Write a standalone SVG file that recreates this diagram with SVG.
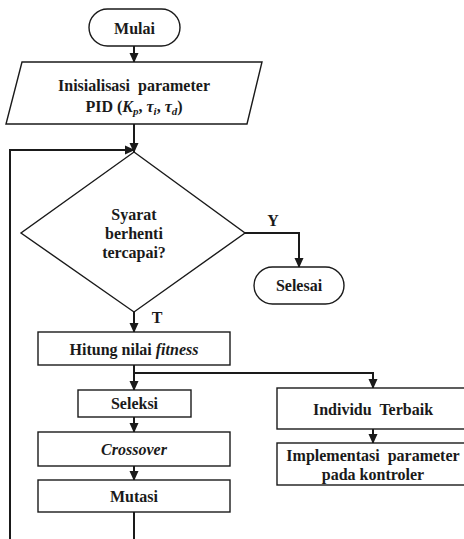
<svg xmlns="http://www.w3.org/2000/svg" width="464" height="539" viewBox="0 0 464 539">
<defs>
<marker id="ah" markerWidth="10" markerHeight="10" refX="9" refY="5" orient="auto" markerUnits="userSpaceOnUse">
<path d="M0,0.5 L10,5 L0,9.5 Z" fill="#1a1a1a"/>
</marker>
<style>
.s{fill:#fff;stroke:#1a1a1a;stroke-width:1.4}
.c{fill:none;stroke:#1a1a1a;stroke-width:2}
text{font-family:"Liberation Serif","Times New Roman",serif;font-weight:bold;font-size:16px;fill:#1a1a1a;text-anchor:middle}
.i{font-style:italic}
</style>
</defs>
<rect width="464" height="539" fill="#fff"/>
<g id="connectors">
<path class="c" d="M134,46 V62" marker-end="url(#ah)"/>
<path class="c" d="M134,124 V152" marker-end="url(#ah)"/>
<path class="c" d="M10,539 V150 H134" marker-end="url(#ah)"/>
<path class="c" d="M245,233 H299 V267" marker-end="url(#ah)"/>
<path class="c" d="M134,312 V332" marker-end="url(#ah)"/>
<path class="c" d="M134,365 V390" marker-end="url(#ah)"/>
<path class="c" d="M134,373 H373 V388" marker-end="url(#ah)"/>
<path class="c" d="M134,417 V432" marker-end="url(#ah)"/>
<path class="c" d="M134,466 V480" marker-end="url(#ah)"/>
<path class="c" d="M373,429 V443" marker-end="url(#ah)"/>
<path class="c" d="M134,512 V539"/>
<text x="273" y="226">Y</text>
<text x="157" y="323">T</text>
</g>
<g id="mulai">
<rect class="s" x="89" y="9" width="91" height="37" rx="18.5"/>
<text x="134.5" y="34">Mulai</text>
</g>
<g id="inisialisasi">
<path class="s" d="M22,62 H262 L247,124 H6 Z"/>
<text x="134" y="91" xml:space="preserve">Inisialisasi  parameter</text>
<text x="134" y="112">PID (<tspan class="i">K</tspan><tspan class="i" font-size="11" dy="3">p</tspan><tspan dy="-3">, </tspan><tspan class="i">τ</tspan><tspan class="i" font-size="11" dy="3">i</tspan><tspan dy="-3">, </tspan><tspan class="i">τ</tspan><tspan class="i" font-size="11" dy="3">d</tspan><tspan dy="-3">)</tspan></text>
</g>
<g id="syarat">
<path class="s" d="M134,152 L245,233 L134,312 L21,233 Z"/>
<text x="134" y="220">Syarat</text>
<text x="134" y="239">berhenti</text>
<text x="134" y="258">tercapai?</text>
</g>
<g id="selesai">
<rect class="s" x="254" y="267" width="90" height="37" rx="18.5"/>
<text x="299" y="291">Selesai</text>
</g>
<g id="hitung">
<rect class="s" x="38" y="332" width="192" height="33"/>
<text x="134" y="355">Hitung nilai <tspan class="i">fitness</tspan></text>
</g>
<g id="seleksi">
<rect class="s" x="78" y="390" width="113" height="27"/>
<text x="134.5" y="409">Seleksi</text>
</g>
<g id="crossover">
<rect class="s" x="38" y="432" width="192" height="34"/>
<text x="134" y="455" class="i">Crossover</text>
</g>
<g id="mutasi">
<rect class="s" x="38" y="480" width="192" height="32"/>
<text x="134" y="502">Mutasi</text>
</g>
<g id="individu">
<rect class="s" x="277" y="388" width="190" height="41"/>
<text x="373" y="415" xml:space="preserve">Individu  Terbaik</text>
</g>
<g id="implementasi">
<rect class="s" x="277" y="443" width="190" height="42"/>
<text x="373" y="461" xml:space="preserve">Implementasi  parameter</text>
<text x="373" y="480">pada kontroler</text>
</g>
</svg>
